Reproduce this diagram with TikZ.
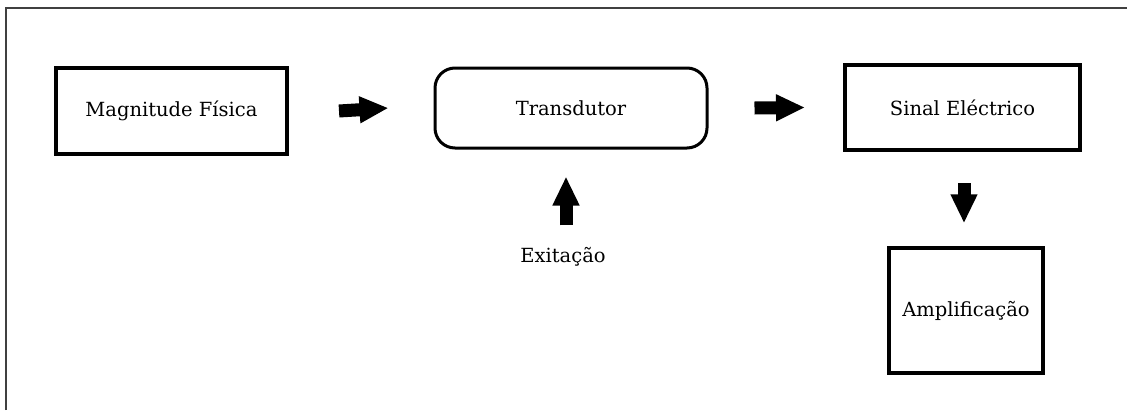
\documentclass[tikz,border=0pt]{standalone}
\usepackage{fontspec}
\setmainfont{DejaVu Serif}
\usetikzlibrary{arrows.meta}
\begin{document}
\begin{tikzpicture}[x=1pt,y=-1pt,
  lbl/.style={text=black,font=\fontsize{19.5}{23}\selectfont},
  boxnode/.style={lbl,draw=black,line width=4pt,inner sep=0pt},
  blockarrow/.style={line width=13pt,-{Triangle[length=29pt,width=25pt]}}]
\useasboundingbox (0,0) rectangle (1127,410);
\draw[line width=1.8pt,draw=black!75] (6,410) -- (6,8) -- (1127,8);
\node[boxnode,minimum width=231pt,minimum height=86pt] (mag) at (171.5,111) {Magnitude Física};
\node[boxnode,line width=3pt,rounded corners=20pt,minimum width=272pt,minimum height=80pt] (trans) at (571,108) {Transdutor};
\node[boxnode,minimum width=235pt,minimum height=85pt] (sinal) at (962.5,107.5) {Sinal Eléctrico};
\node[boxnode,line width=3.5pt,minimum width=154pt,minimum height=125pt] (amp) at (966,310.5) {Amplificação};
\node[lbl,inner sep=0pt] (exc) at (563,257) {Exitação};
\draw[blockarrow] ([xshift=50pt]mag.east) -- ([xshift=-45pt]trans.west);
\draw[blockarrow] ([xshift=46pt]trans.east) -- ([xshift=-38pt]sinal.west);
\draw[blockarrow] ([xshift=1.5pt,yshift=-31pt]sinal.south) -- ([xshift=-2pt,yshift=23pt]amp.north);
\draw[blockarrow] ([xshift=3pt,yshift=22pt]exc.north) -- ([xshift=-5pt,yshift=-27pt]trans.south);
\end{tikzpicture}
\end{document}
